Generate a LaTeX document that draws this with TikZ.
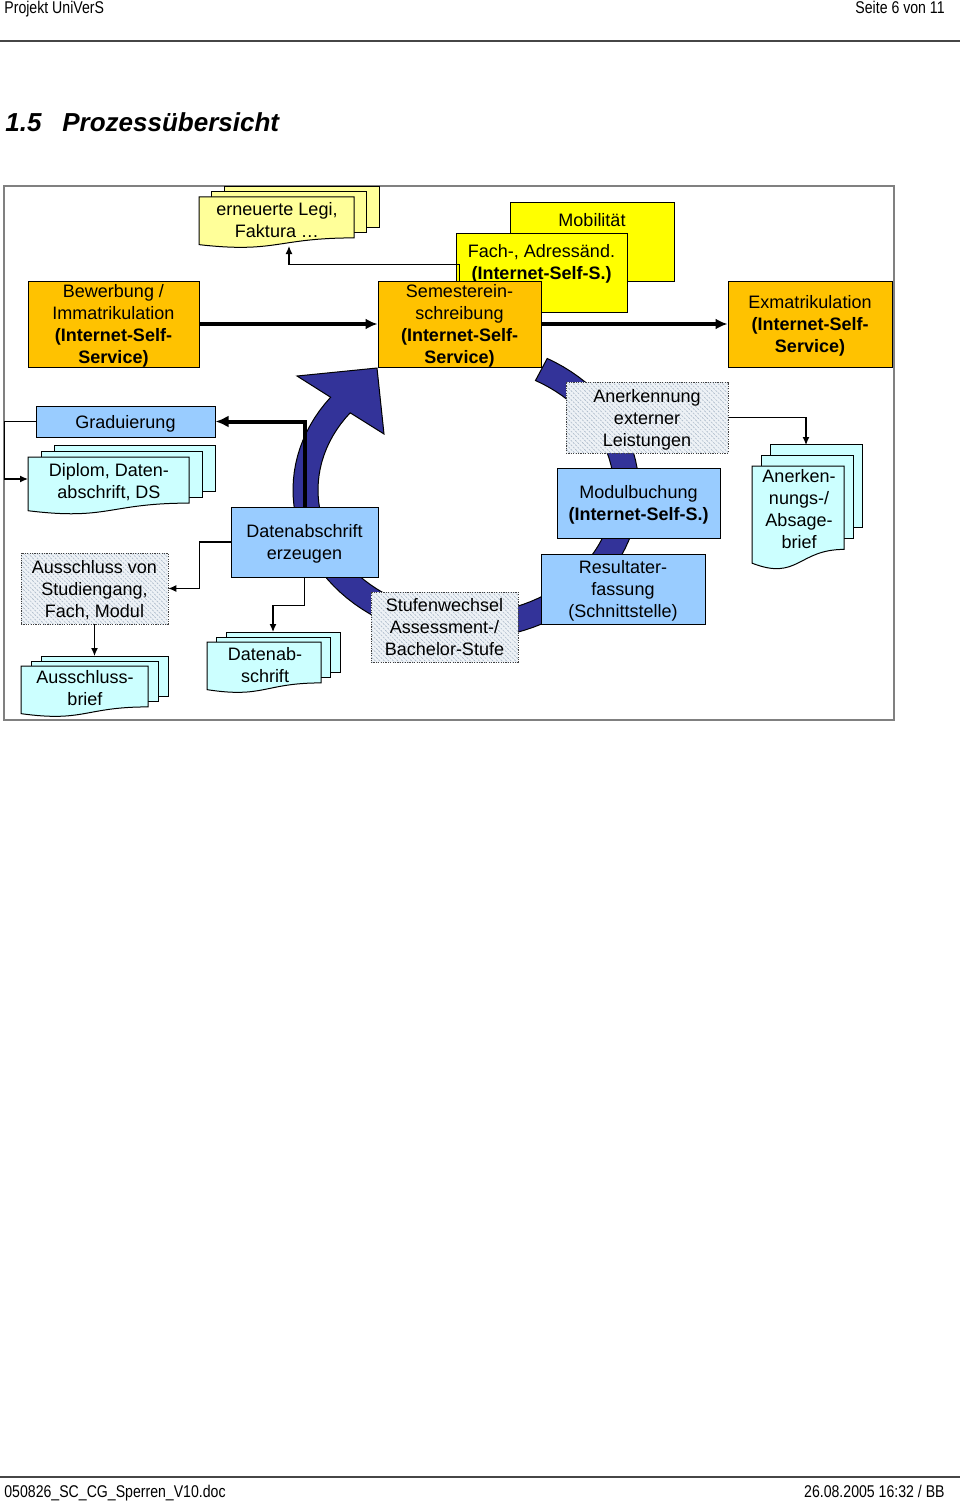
\documentclass[tikz,border=0pt]{standalone}
\usepackage{fontspec}
\setmainfont{Liberation Sans}
\newfontfamily\hdrfont[FakeStretch=0.83]{Liberation Sans}
\usetikzlibrary{arrows.meta,patterns.meta,positioning}

\definecolor{orangefill}{RGB}{255,194,0}
\definecolor{yellowfill}{RGB}{255,255,0}
\definecolor{legifill}{RGB}{255,255,153}
\definecolor{bluefill}{RGB}{153,204,255}
\definecolor{docfill}{RGB}{204,255,255}
\definecolor{ringblue}{RGB}{51,51,153}
\definecolor{hatchbg}{RGB}{238,242,246}
\definecolor{hatchline}{RGB}{172,186,202}
\definecolor{framegray}{RGB}{128,128,128}
\definecolor{rulegray}{RGB}{70,70,70}

\newcommand\diafont{\fontsize{9}{11}\selectfont}

\tikzset{
  box/.style={draw, line width=0.5pt, inner sep=0pt, align=center, text depth=0pt, font=\diafont},
  orangebox/.style={box, fill=orangefill, minimum height=43pt},
  yellowbox/.style={box, fill=yellowfill, minimum height=39pt},
  bluebox/.style={box, fill=bluefill},
  hatchbox/.style={box, draw=black!75, dash pattern=on 0.6pt off 0.6pt,
    preaction={fill=hatchbg},
    pattern={Lines[angle=-45,distance=1.6pt,line width=0.35pt]}, pattern color=hatchline},
  lbl/.style={inner sep=0pt, align=center, font=\diafont},
  hdr/.style={inner sep=0pt, font=\hdrfont\fontsize{8.5}{10}\selectfont},
  conn/.style={line width=0.6pt, -{Latex[length=4pt,width=3.5pt]}},
  bigconn/.style={line width=2pt, -{Latex[length=6pt,width=5.5pt]}}
}

% stack of three documents: x1, x2, top, height, dx, dy, fill
\newcommand\multidoc[7]{%
  \foreach \k in {2,1}{
    \draw[line width=0.5pt, fill=#7] ({#1+\k*#5},{#3-\k*#6}) rectangle ({#2+\k*#5},{#3+0.802*#4-\k*#6});
  }
  \draw[line width=0.5pt, fill=#7] (#1,#3) -- (#2,#3) -- (#2,{#3+0.802*#4})
    .. controls ({(#1+#2)/2},{#3+0.802*#4}) and ({(#1+#2)/2},{#3+1.107*#4}) .. (#1,{#3+0.934*#4}) -- cycle;
}

\begin{document}
\begin{tikzpicture}[x=0.5pt,y=-0.5pt]
  \useasboundingbox (0,0) rectangle (960,1503);

  % page head and foot
  \node[hdr, anchor=base west] (proj) at (4,14) {Projekt UniVerS};
  \node[hdr, anchor=base east] (page) at (945,14) {Seite 6 von 11};
  \draw[rulegray, line width=0.75pt] (0,41) -- (960,41);
  \draw[rulegray, line width=0.75pt] (0,1477) -- (960,1477);
  \node[hdr, anchor=base west] (file) at (4,1497) {050826\_SC\_CG\_Sperren\_V10.doc};
  \node[hdr, anchor=base east] (date) at (945,1497) {26.08.2005 16:32 / BB};

  \node[inner sep=0pt, anchor=base west, font=\fontsize{13}{15}\selectfont\bfseries\itshape] (num) at (5,132) {1.5};
  \node[inner sep=0pt, anchor=base west, font=\fontsize{13}{15}\selectfont\bfseries\itshape] (title) at (62,132) {Prozessübersicht};

  % frame
  \draw[framegray, line width=0.75pt, fill=white] (4,186) rectangle (894,720);

  % cycle arrow
  \filldraw[fill=ringblue, draw=black, line width=0.5pt]
    plot[domain=-62:218.5, samples=90] ({466+173*cos(\x)},{490+149*sin(\x)})
    -- (297,376) -- (377,368) -- (384,434)
    -- plot[domain=218.5:-62, samples=90] ({466+148*cos(\x)},{490+124*sin(\x)}) -- cycle;

  % documents
  \multidoc{199}{354}{197}{51}{12.5}{5}{legifill}
  \node[lbl] (legi) at (277,220) {erneuerte Legi,\\Faktura …};
  \multidoc{28}{189}{457}{57.5}{13}{6}{docfill}
  \node[lbl] (diplom) at (109,482) {Diplom, Daten-\\abschrift, DS};
  \multidoc{21}{148}{666}{51}{10}{5}{docfill}
  \node[lbl] (ausbrief) at (85,688) {Ausschluss-\\brief};
  \multidoc{207}{321}{642}{51}{9.5}{5}{docfill}
  \node[lbl] (dabdoc) at (265,665) {Datenab-\\schrift};
  \multidoc{752}{844}{466}{104}{9}{11}{docfill}
  \node[lbl] (anbrief) at (799,509) {Anerken-\\nungs-/\\Absage-\\brief};

  % boxes
  \node[yellowbox, minimum width=82pt] (mob) at (592,242) {};
  \node[lbl, below=5.5pt of mob.north] (mobtxt) {Mobilität};
  \node[yellowbox, minimum width=85.5pt] (fach) at (541.5,273) {};
  \node[lbl, below=5.5pt of fach.north] (fachtxt) {Fach-, Adressänd.\\\textbf{(Internet-Self-S.)}};

  \node[orangebox, minimum width=85.5pt] (bew) at (113.5,324) {Bewerbung /\\Immatrikulation\\\textbf{(Internet-Self-}\\\textbf{Service)}};
  \node[orangebox, minimum width=81.5pt] (sem) at (459.5,324) {Semesterein-\\schreibung\\\textbf{(Internet-Self-}\\\textbf{Service)}};
  \node[orangebox, minimum width=82pt] (exm) at (810,324) {Exmatrikulation\\\textbf{(Internet-Self-}\\\textbf{Service)}};

  \node[bluebox, minimum width=89.5pt, minimum height=15.5pt] (grad) at (125.5,421.5) {Graduierung};
  \node[bluebox, minimum width=73.5pt, minimum height=35pt] (dae) at (304.5,542) {Datenabschrift\\erzeugen};
  \node[hatchbox, minimum width=73.5pt, minimum height=35.5pt] (aus) at (94.5,588.5) {Ausschluss von\\Studiengang,\\Fach, Modul};
  \node[hatchbox, minimum width=73.5pt, minimum height=35pt] (stw) at (444.5,627) {Stufenwechsel\\Assessment-/\\Bachelor-Stufe};
  \node[bluebox, minimum width=82pt, minimum height=35pt] (res) at (623,589) {Resultater-\\fassung\\(Schnittstelle)};
  \node[bluebox, minimum width=81.5pt, minimum height=35pt] (mod) at (638.5,503) {Modulbuchung\\\textbf{(Internet-Self-S.)}};
  \node[hatchbox, minimum width=81pt, minimum height=35.5pt] (ane) at (647,417.5) {Anerkennung\\externer\\Leistungen};

  % connectors
  \coordinate (legiin) at (289,246);
  \coordinate (dipin) at (28,479);
  \coordinate (dabin) at (273,632);
  \coordinate (ausin) at (94.5,656);
  \coordinate (anbin) at (806,445);

  \draw[bigconn] (bew) -- (sem);
  \draw[bigconn] (sem) -- (exm);
  \draw[conn] (sem.north) -- ++(0,-16) -| (legiin);
  \draw[bigconn, -{Latex[length=6.5pt,width=6pt]}] (dae.north) |- (grad.east);
  \draw[conn] (grad.west) -- ++(-31,0) |- (dipin);
  \draw[conn] (dae.west) -- ++(-31,0) |- (aus.east);
  \draw[conn] (dae.south) -- ++(0,28) -| (dabin);
  \draw[conn] (aus.south) -- (ausin);
  \draw[conn] (ane.east) -| (anbin);
\end{tikzpicture}
\end{document}
